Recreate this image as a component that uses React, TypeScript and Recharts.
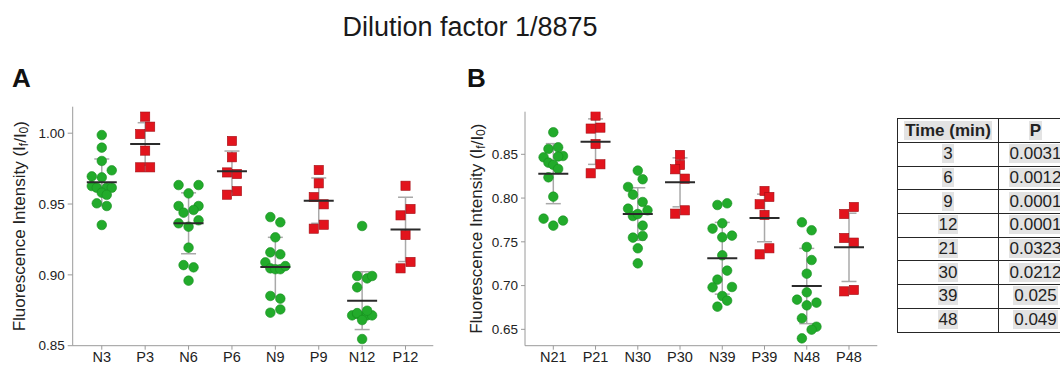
import React from 'react';
import { ScatterChart, Scatter, XAxis, YAxis, ErrorBar, Label } from 'recharts';

type Pt = [number, number]; // [jitter slot, value]

const titleText = 'Dilution factor 1/8875';

const categoriesA = ['N3', 'P3', 'N6', 'P6', 'N9', 'P9', 'N12', 'P12'];
const categoriesB = ['N21', 'P21', 'N30', 'P30', 'N39', 'P39', 'N48', 'P48'];

// panel A groups
const N3: Pt[] = [[0, 0.9987], [0, 0.9898], [0, 0.9804], [2, 0.9738], [-2, 0.9695], [0, 0.9688], [-2, 0.9627], [-1, 0.9615], [1, 0.9615], [2, 0.9615], [0, 0.958], [1, 0.9565], [-1, 0.9505], [1, 0.9486], [0, 0.9352]];
const P3: Pt[] = [[0, 1.0117], [1, 1.0046], [-1, 0.9994], [0, 0.9877], [-1, 0.9759], [1, 0.9759]];
const N6: Pt[] = [[-2, 0.9634], [2, 0.9634], [0, 0.9575], [-2, 0.9486], [2, 0.9486], [-1, 0.9439], [1, 0.9458], [-2, 0.9364], [0, 0.934], [2, 0.9385], [0, 0.9192], [-1, 0.9069], [1, 0.9053], [0, 0.8959]];
const P6: Pt[] = [[0, 0.9945], [0, 0.983], [-1, 0.9723], [1, 0.9712], [-1, 0.9566], [1, 0.9591]];
const N9: Pt[] = [[-1, 0.9408], [1, 0.9371], [0, 0.9265], [-1, 0.9159], [1, 0.9145], [-2, 0.9088], [-1, 0.9046], [0, 0.904], [1, 0.904], [2, 0.9062], [-1, 0.8851], [1, 0.8832], [-1, 0.8733], [1, 0.8756]];
const P9: Pt[] = [[0, 0.974], [0, 0.9646], [-1, 0.9549], [1, 0.9498], [-1, 0.9326], [1, 0.9354]];
const N12: Pt[] = [[0, 0.9345], [-1, 0.8992], [1, 0.8975], [2, 0.8992], [-1, 0.8912], [-2, 0.8714], [-1, 0.8724], [0, 0.8705], [1, 0.8714], [2, 0.8714], [1, 0.8747], [-1, 0.873], [0, 0.8681], [0, 0.8547]];
const P12: Pt[] = [[0, 0.9629], [1, 0.9465], [-1, 0.942], [0, 0.9281], [1, 0.9091], [-1, 0.9046]];

// panel B groups
const N21: Pt[] = [[0, 0.8752], [-1, 0.8561], [1, 0.858], [-2, 0.8466], [2, 0.8481], [1, 0.8475], [-1, 0.8405], [0, 0.838], [1, 0.8333], [-1, 0.8237], [0, 0.8016], [-2, 0.7765], [2, 0.7743], [0, 0.7685]];
const P21: Pt[] = [[0, 0.8942], [-1, 0.8794], [1, 0.8805], [0, 0.8618], [1, 0.8386], [-1, 0.8283]];
const N30: Pt[] = [[0, 0.8314], [-2, 0.8127], [1, 0.8215], [-1, 0.8039], [1, 0.7955], [-2, 0.7879], [2, 0.786], [-1, 0.7795], [0, 0.7818], [1, 0.7685], [-1, 0.7548], [1, 0.7567], [0, 0.7426], [0, 0.7254]];
const P30: Pt[] = [[0, 0.8493], [0, 0.8378], [-1, 0.8329], [1, 0.8222], [-1, 0.7822], [1, 0.786]];
const N39: Pt[] = [[-1, 0.7921], [1, 0.794], [0, 0.7712], [-2, 0.7651], [2, 0.7571], [0, 0.7552], [0, 0.7346], [1, 0.7171], [-1, 0.7068], [-2, 0.698], [2, 0.6984], [0, 0.6881], [1, 0.6828], [-1, 0.6759]];
const P39: Pt[] = [[0, 0.8081], [1, 0.8013], [-1, 0.7929], [0, 0.7807], [1, 0.7426], [-1, 0.7357]];
const N48: Pt[] = [[-1, 0.7723], [1, 0.7632], [0, 0.7441], [1, 0.7292], [0, 0.7136], [0, 0.6923], [-2, 0.6839], [2, 0.6805], [0, 0.6774], [-1, 0.6626], [2, 0.653], [1, 0.6496], [-1, 0.6397]];
const P48: Pt[] = [[1, 0.7898], [-1, 0.7818], [-1, 0.7544], [1, 0.7491], [-1, 0.6934], [1, 0.695]];

const meansA = [0.9653, 0.9924, 0.9364, 0.9731, 0.9055, 0.9524, 0.8818, 0.9321];
const sdsA = [0.0165, 0.015, 0.0215, 0.0143, 0.021, 0.016, 0.0204, 0.0227];
const meansB = [0.8279, 0.8645, 0.7818, 0.818, 0.7312, 0.7773, 0.6995, 0.7437];
const sdsB = [0.0343, 0.026, 0.03, 0.028, 0.041, 0.0272, 0.043, 0.039];

const ticksA = [0.85, 0.9, 0.95, 1.0];
const ticksB = [0.65, 0.7, 0.75, 0.8, 0.85];

const timesMin = ['3', '6', '9', '12', '21', '30', '39', '48'];
const pValues = ['0.0031', '0.0012', '0.0001', '0.0001', '0.0323', '0.0212', '0.025', '0.049'];

const GREEN = '#22ab2b';
const RED = '#e2141d';
const SLOT = 0.115;
const FONT = '"Liberation Sans", Arial, sans-serif';

const toPoints = (groups: Pt[][], parity: number) =>
  groups.flatMap((g, i) => (i % 2 === parity ? g.map(([s, v]) => ({ x: i + s * SLOT, y: v })) : []));

const GreenDot = (p: any) => <circle cx={p.cx} cy={p.cy} r={4.8} fill={GREEN} stroke="#188d20" strokeWidth={0.6} />;
const RedSquare = (p: any) => (
  <rect x={p.cx - 4.6} y={p.cy - 4.6} width={9.2} height={9.2} fill={RED} stroke="#a30d13" strokeWidth={0.6} />
);
const MeanBar = (p: any) => <line x1={p.cx - 15} x2={p.cx + 15} y1={p.cy} y2={p.cy} stroke="#2a2a2a" strokeWidth={2} />;
const Hidden = () => <g />;

interface PanelProps {
  categories: string[];
  groups: Pt[][];
  means: number[];
  sds: number[];
  ticks: number[];
  yDomain: [number, number];
  xDomain: [number, number];
  left: number;
  margin: { top: number; right: number; bottom: number; left: number };
  labelX: number;
  tickSize: number;
}

const Panel: React.FC<PanelProps> = ({ categories, groups, means, sds, ticks, yDomain, xDomain, left, margin, labelX, tickSize }) => {
  const green = toPoints(groups, 0);
  const red = toPoints(groups, 1);
  const summary = means.map((m, i) => ({ x: i, y: m, sd: sds[i] }));

  const yLabel = (props: any) => {
    const vb = props.viewBox;
    const cy = vb.y + vb.height / 2;
    return (
      <text
        x={labelX}
        y={cy}
        transform={`rotate(-90 ${labelX} ${cy})`}
        textAnchor="middle"
        dominantBaseline="central"
        fontSize={17}
        fill="#222"
        fontFamily={FONT}
      >
        Fluorescence Intensity (I<tspan dy={4} fontSize={12}>f</tspan>
        <tspan dy={-4}>/I</tspan>
        <tspan dy={4} fontSize={12}>0</tspan>
        <tspan dy={-4}>)</tspan>
      </text>
    );
  };

  return (
    <div style={{ position: 'absolute', left, top: 0 }}>
      <ScatterChart width={450} height={367} margin={margin}>
        <XAxis
          type="number"
          dataKey="x"
          domain={xDomain}
          ticks={[0, 1, 2, 3, 4, 5, 6, 7]}
          interval={0}
          tickFormatter={(v: number) => categories[v]}
          height={21}
          tickSize={4}
          tickMargin={2}
          stroke="#9a9a9a"
          tick={{ fill: '#222', fontSize: 14.5, fontFamily: FONT }}
          allowDataOverflow
        />
        <YAxis
          type="number"
          dataKey="y"
          domain={yDomain}
          ticks={ticks}
          interval={0}
          tickFormatter={(v: number) => v.toFixed(2)}
          width={60}
          tickSize={tickSize}
          tickMargin={3}
          stroke="#9a9a9a"
          tick={{ fill: '#222', fontSize: 13.5, fontFamily: FONT }}
          allowDataOverflow
        >
          <Label content={yLabel} />
        </YAxis>
        <Scatter data={summary} shape={Hidden} isAnimationActive={false}>
          <ErrorBar dataKey="sd" direction="y" width={7.5} stroke="#a9a9a9" strokeWidth={1.5} isAnimationActive={false} />
        </Scatter>
        <Scatter data={green} shape={GreenDot} isAnimationActive={false} />
        <Scatter data={red} shape={RedSquare} isAnimationActive={false} />
        <Scatter data={summary} shape={MeanBar} isAnimationActive={false} />
      </ScatterChart>
    </div>
  );
};

const cellBorder = '1.6px solid #262626';

const Hi: React.FC<{ children: React.ReactNode }> = ({ children }) => (
  <span style={{ background: '#e3e3e3', padding: '0 1px' }}>{children}</span>
);

const PTable: React.FC = () => (
  <table
    style={{
      position: 'absolute',
      left: 897,
      top: 118,
      width: 175,
      borderCollapse: 'collapse',
      fontFamily: FONT,
      fontSize: 17,
      color: '#222',
      tableLayout: 'fixed',
    }}
  >
    <colgroup>
      <col style={{ width: 101 }} />
      <col style={{ width: 74 }} />
    </colgroup>
    <tbody>
      <tr style={{ height: 24 }}>
        <td style={{ border: cellBorder, textAlign: 'center', fontWeight: 'bold', padding: 0, whiteSpace: 'nowrap' }}>
          <Hi>Time (min)</Hi>
        </td>
        <td style={{ border: cellBorder, textAlign: 'center', fontWeight: 'bold', padding: 0 }}>
          <Hi>P</Hi>
        </td>
      </tr>
      {timesMin.map((t, i) => (
        <tr key={t} style={{ height: 23.7 }}>
          <td style={{ border: cellBorder, textAlign: 'center', padding: 0 }}>
            <Hi>{t}</Hi>
          </td>
          <td style={{ border: cellBorder, textAlign: 'center', padding: 0 }}>
            <Hi>{pValues[i]}</Hi>
          </td>
        </tr>
      ))}
    </tbody>
  </table>
);

export default function App() {
  return (
    <div
      style={{
        position: 'absolute',
        left: 0,
        top: 0,
        width: 1060,
        height: 367,
        overflow: 'hidden',
        background: '#fff',
        fontFamily: FONT,
      }}
    >
      <svg width={1060} height={367} style={{ position: 'absolute', left: 0, top: 0 }}>
        <text x={470} y={36} textAnchor="middle" fontSize={27} fill="#1a1a1a" fontFamily={FONT}>
          {titleText}
        </text>
        <text x={12} y={87} fontSize={26} fontWeight="bold" fill="#111" fontFamily={FONT}>
          A
        </text>
        <text x={467} y={87} fontSize={26} fontWeight="bold" fill="#111" fontFamily={FONT}>
          B
        </text>
      </svg>
      <Panel
        categories={categoriesA}
        groups={[N3, P3, N6, P6, N9, P9, N12, P12]}
        means={meansA}
        sds={sdsA}
        ticks={ticksA}
        yDomain={[0.85, 1.0187]}
        xDomain={[-0.67, 7.64]}
        left={0}
        margin={{ top: 106.7, right: 16.7, bottom: 0.3, left: 12.7 }}
        labelX={20}
        tickSize={5}
      />
      <Panel
        categories={categoriesB}
        groups={[N21, P21, N30, P30, N39, P39, N48, P48]}
        means={meansB}
        sds={sdsB}
        ticks={ticksB}
        yDomain={[0.6313, 0.8987]}
        xDomain={[-0.67, 7.67]}
        left={450}
        margin={{ top: 111.7, right: 22.7, bottom: 0.3, left: 15 }}
        labelX={27}
        tickSize={4}
      />
      <PTable />
    </div>
  );
}
